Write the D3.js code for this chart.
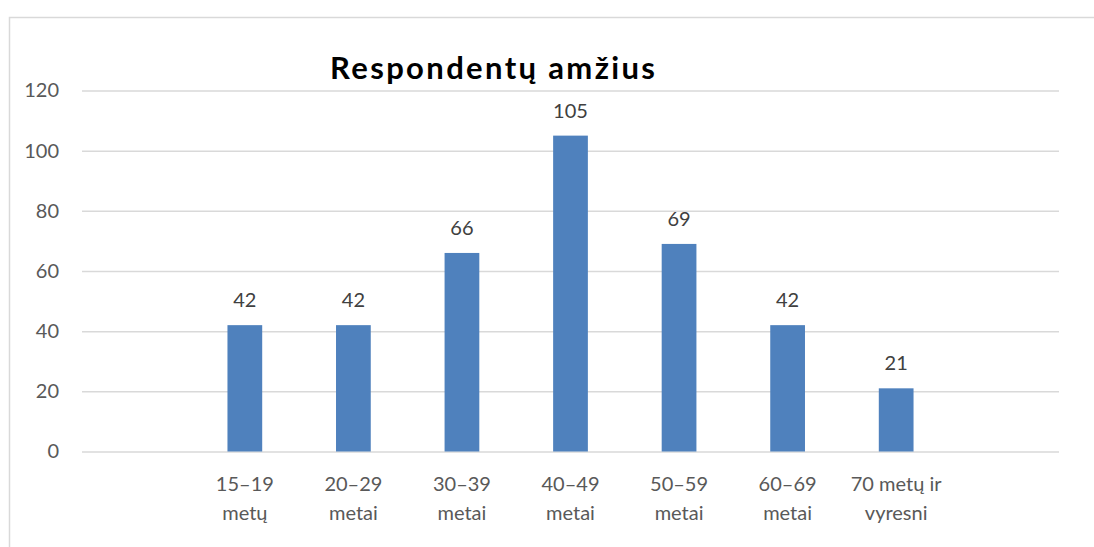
<!DOCTYPE html>
<html><head><meta charset="utf-8">
<script src="https://cdn.jsdelivr.net/npm/d3@7"></script>
<style>body{margin:0;background:#fff;}svg{display:block;}</style>
</head><body>
<script>
const categories = ["", "15–19\nmetų", "20–29\nmetai", "30–39\nmetai", "40–49\nmetai", "50–59\nmetai", "60–69\nmetai", "70 metų ir\nvyresni", " "];
const values = [null, 42, 42, 66, 105, 69, 42, 21, null];
const yTicks = [0, 20, 40, 60, 80, 100, 120];
const title = "Respondentų amžius";

const W = 1094, H = 547;
const svg = d3.select("body").append("svg").attr("width", W).attr("height", H);
svg.append("rect").attr("x", 9.5).attr("y", 17.5).attr("width", W + 10).attr("height", H + 10)
  .attr("fill", "#fff").attr("stroke", "#d9d9d9").attr("stroke-width", 1.5);

const x = d3.scaleBand().domain(categories).range([82, 1059]).paddingInner(0.68).paddingOuter(0.34);
const y = d3.scaleLinear().domain([0, 120]).range([451.5, 90.5]);
const font = "Lato, 'Open Sans', sans-serif";

const yAxis = d3.axisLeft(y).tickValues(yTicks).tickSize(-(1059 - 82)).tickPadding(23);
const gy = svg.append("g").attr("transform", "translate(82,0)").call(yAxis);
gy.select(".domain").remove();
gy.selectAll(".tick line").attr("stroke", "#d9d9d9").attr("stroke-width", 1.5);
gy.selectAll(".tick text").attr("fill", "#595959").style("font-family", font).style("font-size", "20px");

const data = categories.map((c, i) => ({c, v: values[i]})).filter(d => d.v != null);
svg.selectAll("rect.bar").data(data).enter().append("rect").attr("class", "bar")
  .attr("x", d => x(d.c)).attr("width", x.bandwidth())
  .attr("y", d => y(d.v)).attr("height", d => y(0) - y(d.v))
  .attr("fill", "#4f81bd");

svg.selectAll("text.lbl").data(data).enter().append("text").attr("class", "lbl")
  .attr("x", d => x(d.c) + x.bandwidth() / 2).attr("y", d => y(d.v) - 18)
  .attr("text-anchor", "middle").attr("fill", "#404040")
  .style("font-family", font).style("font-size", "20px").text(d => d.v);

const xl = svg.selectAll("text.xl").data(categories).enter().append("text").attr("class", "xl")
  .attr("text-anchor", "middle").attr("fill", "#595959")
  .style("font-family", font).style("font-size", "20px");
xl.each(function(d) {
  const lines = d.split("\n");
  const t = d3.select(this);
  lines.forEach((ln, i) => {
    t.append("tspan").attr("x", x(d) + x.bandwidth() / 2).attr("y", 491 + i * 29).text(ln);
  });
});

const tt = svg.append("text").attr("x", 330).attr("y", 79).attr("text-anchor", "start")
  .attr("fill", "#000").style("font-family", font).style("font-weight", "bold").style("font-size", "31px")
  .text(title);
const len = tt.node().getComputedTextLength();
tt.style("letter-spacing", ((325 - len) / (title.length - 1)) + "px");
</script>
</body></html>
